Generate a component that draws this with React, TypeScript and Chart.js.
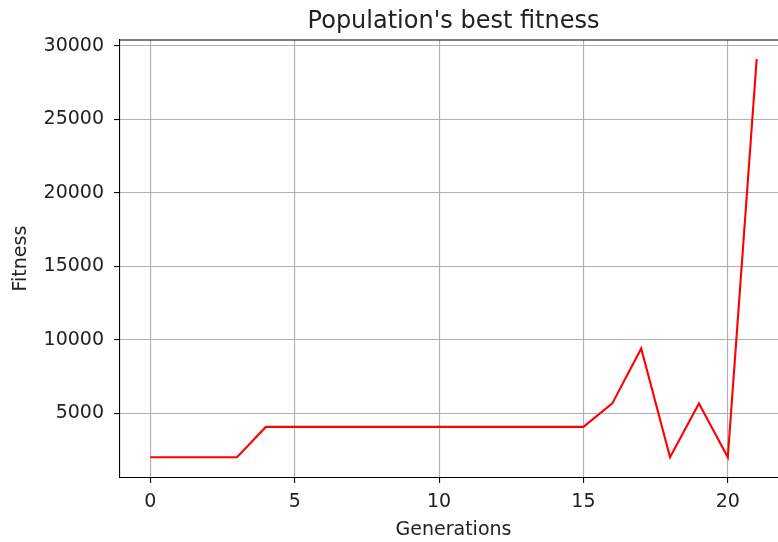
import React, { useEffect, useRef } from "react";
import { Chart, registerables } from "chart.js";

Chart.register(...registerables);

const generations: number[] = [0, 1, 2, 3, 4, 5, 6, 7, 8, 9, 10, 11, 12, 13, 14, 15, 16, 17, 18, 19, 20, 21];
const bestFitness: number[] = [
  2020, 2020, 2020, 2020, 4080, 4080, 4080, 4080, 4080, 4080, 4080,
  4080, 4080, 4080, 4080, 4080, 5680, 9420, 2020, 5680, 2020, 29100,
];
const xTicks: number[] = [0, 5, 10, 15, 20];
const yTicks: number[] = [5000, 10000, 15000, 20000, 25000, 30000];
const xLimits: number[] = [-1.05, 22.05];
const yLimits: number[] = [667, 30394];

const FONT = "'DejaVu Sans', sans-serif";

const frameTop = {
  id: "frameTop",
  afterDraw(chart: any) {
    const { ctx, chartArea } = chart;
    ctx.save();
    ctx.strokeStyle = "#000";
    ctx.lineWidth = 1.2;
    ctx.beginPath();
    ctx.moveTo(chartArea.left, chartArea.top);
    ctx.lineTo(chartArea.right, chartArea.top);
    ctx.lineTo(chartArea.right, chartArea.bottom);
    ctx.stroke();
    ctx.restore();
  },
};

export default function App() {
  const ref = useRef<HTMLCanvasElement | null>(null);
  useEffect(() => {
    if (!ref.current) return;
    const chart = new Chart(ref.current, {
      type: "line",
      data: {
        datasets: [
          {
            label: "best fitness",
            data: generations.map((g, i) => ({ x: g, y: bestFitness[i] })),
            borderColor: "#ff0000",
            borderWidth: 2.1,
            pointRadius: 0,
            tension: 0,
            fill: false,
          },
        ],
      },
      options: {
        animation: false,
        responsive: false,
        maintainAspectRatio: false,
        devicePixelRatio: 1,
        layout: { padding: { left: 0, right: 119, top: 0, bottom: 0 } },
        plugins: {
          legend: { display: false },
          tooltip: { enabled: false },
          title: { display: false },
        },
        scales: {
          x: {
            type: "linear",
            min: xLimits[0],
            max: xLimits[1],
            afterBuildTicks: (axis: any) => {
              axis.ticks = xTicks.map((v) => ({ value: v }));
            },
            grid: {
              color: "#b0b0b0",
              lineWidth: 1.1,
              tickColor: "#000",
              tickLength: 6,
              drawTicks: true,
            },
            border: { display: true, color: "#000", width: 1.1 },
            ticks: {
              color: "#222",
              font: { family: FONT, size: 19 },
              padding: 7.9,
              maxRotation: 0,
            },
            title: {
              display: true,
              text: "Generations",
              color: "#222",
              font: { family: FONT, size: 19 },
              padding: { top: -3.4, bottom: 0.9 },
            },
          },
          x2: {
            type: "linear",
            position: "top",
            min: xLimits[0],
            max: xLimits[1],
            grid: { display: false, drawTicks: false },
            border: { display: false },
            ticks: { display: false, padding: 0 },
            title: {
              display: true,
              text: "Population's best fitness",
              color: "#222",
              font: { family: FONT, size: 24 },
              padding: { top: 7.2, bottom: 4 },
            },
          },
          y: {
            type: "linear",
            min: yLimits[0],
            max: yLimits[1],
            afterBuildTicks: (axis: any) => {
              axis.ticks = yTicks.map((v) => ({ value: v }));
            },
            grid: {
              color: "#b0b0b0",
              lineWidth: 1.1,
              tickColor: "#000",
              tickLength: 6,
              drawTicks: true,
            },
            border: { display: true, color: "#000", width: 1.1 },
            ticks: {
              color: "#222",
              font: { family: FONT, size: 19 },
              padding: 10,
              callback: (v: any) => String(v),
            },
            title: {
              display: true,
              text: "Fitness",
              color: "#222",
              font: { family: FONT, size: 19 },
              padding: { top: 9.9, bottom: 0.9 },
            },
          },
        },
      },
      plugins: [frameTop],
    });
    return () => chart.destroy();
  }, []);

  return (
    <div
      style={{
        position: "fixed",
        left: 0,
        top: 0,
        width: 778,
        height: 542,
        overflow: "hidden",
        background: "#fff",
      }}
    >
      <canvas ref={ref} width={906} height={542} style={{ display: "block", width: 906, height: 542 }} />
    </div>
  );
}
